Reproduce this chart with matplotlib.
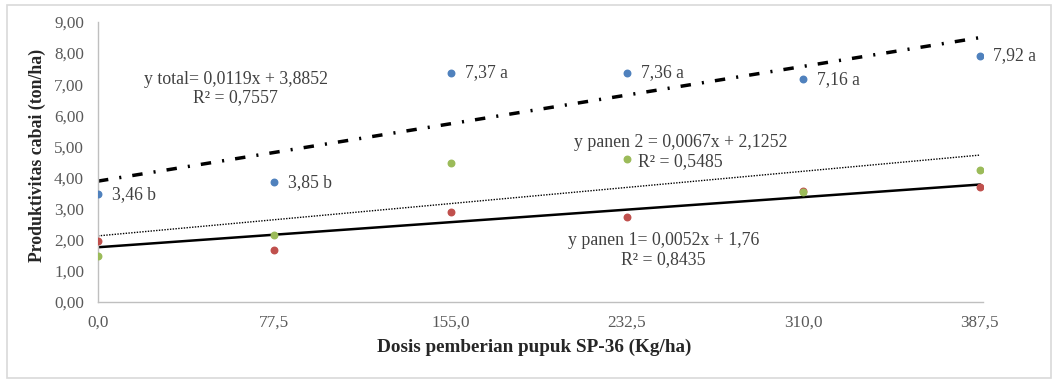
import numpy as np
import matplotlib.pyplot as plt
from matplotlib.patches import Rectangle

plt.rcParams['font.family'] = ['Liberation Serif', 'DejaVu Serif']

# Data
dosis = [0.0, 77.5, 155.0, 232.5, 310.0, 387.5]
y_total = [3.46, 3.85, 7.37, 7.36, 7.16, 7.92]
notasi = ["b", "b", "a", "a", "a", "a"]
y_panen1 = [1.96, 1.67, 2.90, 2.73, 3.58, 3.70]
y_panen2 = [1.47, 2.15, 4.47, 4.60, 3.55, 4.24]

# trendline coefficients (slope, intercept) as printed on chart
tren_total = (0.0119, 3.8852)
tren_panen1 = (0.0052, 1.76)
tren_panen2 = (0.0067, 2.1252)

yticks = np.arange(0, 9.01, 1.0)

fig = plt.figure(figsize=(10.52, 3.79), dpi=100)
ax = fig.add_axes([98/1052, 1 - 302/379, (983 - 98)/1052, (302 - 22)/379])

# outer chart border
fig.patches.append(Rectangle((7/1052, 1/379), 1 - 8/1052, 373/379, transform=fig.transFigure,
                             fill=False, edgecolor='#d9d9d9', linewidth=1.2))

xx = np.array([dosis[0], dosis[-1]])
ax.plot(xx, tren_total[0]*xx + tren_total[1], color='black', lw=2.5,
        dashes=[3.0, 3.2, 0.6, 3.2], zorder=2)
ax.plot(xx, tren_panen2[0]*xx + tren_panen2[1], color='black', lw=1.0,
        linestyle=(0, (1, 1)), zorder=2)
ax.plot(xx, tren_panen1[0]*xx + tren_panen1[1], color='black', lw=1.8, zorder=2)

ax.scatter(dosis, y_total, s=22, color='#4F81BD', zorder=3)
ax.scatter(dosis, y_panen1, s=22, color='#C0504D', zorder=3)
ax.scatter(dosis, y_panen2, s=22, color='#9BBB59', zorder=3)

for x, y, n in zip(dosis, y_total, notasi):
    ax.annotate(f"{y:.2f} {n}".replace('.', ','), (x, y), xytext=(10, 0),
                textcoords='offset points', ha='left', va='center',
                fontsize=12.7, color='#404040')

eq_kw = dict(ha='center', va='center', fontsize=12.8, color='#404040', linespacing=1.1)
ax.text(60.6, 6.85, "y total= 0,0119x + 3,8852\nR² = 0,7557", **eq_kw)
ax.text(256, 4.82, "y panen 2 = 0,0067x + 2,1252\nR² = 0,5485", **eq_kw)
ax.text(248.7, 1.67, "y panen 1= 0,0052x + 1,76\nR² = 0,8435", **eq_kw)

ax.set_xlim(0, 389)
ax.set_ylim(0, 9)
ax.set_xticks(dosis)
ax.set_xticklabels([f"{d:.1f}".replace('.', ',') for d in dosis])
ax.set_yticks(yticks)
ax.set_yticklabels([f"{v:.2f}".replace('.', ',') for v in yticks])
ax.tick_params(axis='both', length=0, labelsize=12.3, labelcolor='#595959')
ax.tick_params(axis='y', pad=10)
ax.tick_params(axis='x', pad=9)

for s in ['top', 'right']:
    ax.spines[s].set_visible(False)
for s in ['left', 'bottom']:
    ax.spines[s].set_color('#bfbfbf')
    ax.spines[s].set_linewidth(1.0)

ax.set_xlabel("Dosis pemberian pupuk SP-36 (Kg/ha)", fontsize=13.8, fontweight='bold',
              color='#262626')
ax.set_ylabel("Produktivitas cabai (ton/ha)", fontsize=12.8, fontweight='bold',
              color='#262626')
ax.xaxis.set_label_coords(0.493, -0.161)
ax.yaxis.set_label_coords(-0.069, 0.525)
ax.yaxis.label.set_va('center')
ax.xaxis.label.set_va('center')

fig.savefig("out.png", dpi=100)
